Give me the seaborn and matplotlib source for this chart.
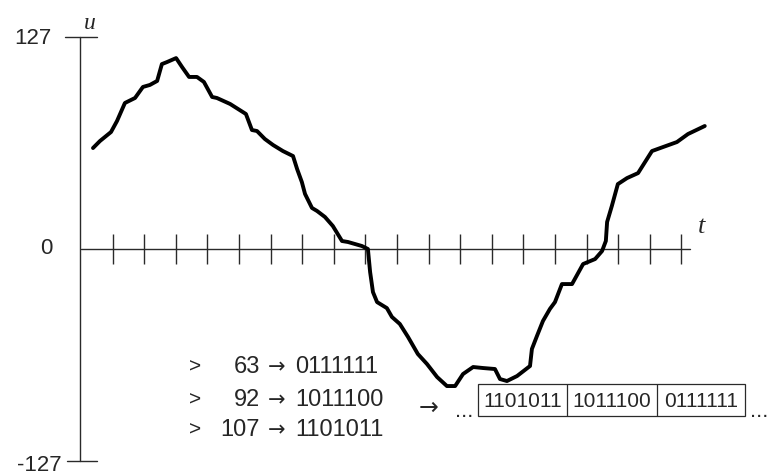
import numpy as np
import pandas as pd
import matplotlib.pyplot as plt
import seaborn as sns
from matplotlib.patches import Rectangle

sns.set_theme(style='white')
plt.rcParams['font.family'] = ['Liberation Sans', 'DejaVu Sans']

t = [0.38, 0.60, 0.95, 1.14, 1.39, 1.71, 1.96, 2.18, 2.41, 2.56, 2.72, 3.01,
     3.20, 3.42, 3.67, 3.89, 4.15, 4.30, 4.72, 4.97, 5.22, 5.41, 5.57, 5.82,
     6.08, 6.39, 6.71, 6.84, 6.99, 7.09, 7.31, 7.47, 7.72, 7.97, 8.26, 8.45,
     8.89, 9.08, 9.15, 9.24, 9.37, 9.68, 9.84, 10.09, 10.35, 10.66, 10.95,
     11.27, 11.58, 11.84, 12.09, 12.41, 12.72, 13.10, 13.26, 13.48, 13.80,
     14.21, 14.27, 14.43, 14.62, 14.84, 15.00, 15.22, 15.54, 15.89, 16.27,
     16.49, 16.61, 16.65, 16.80, 16.99, 17.28, 17.63, 18.07, 18.42, 18.86,
     19.21, 19.74]
u = [60.5, 64.7, 70.1, 76.7, 87.5, 90.5, 97.1, 98.3, 100.7, 110.8, 112.0, 114.4,
     109.0, 103.1, 103.1, 100.1, 91.1, 90.5, 86.9, 83.9, 80.9, 71.3, 70.7, 65.9,
     62.3, 58.7, 55.7, 47.9, 40.1, 33.0, 24.6, 22.8, 19.2, 13.8, 4.8, 4.2,
     1.8, 0.0, -13.8, -25.8, -31.8, -35.4, -40.7, -44.9, -52.7, -62.9, -68.9,
     -76.7, -82.1, -82.1, -74.9, -70.7, -71.3, -71.9, -77.9, -79.1, -76.1,
     -70.1, -59.9, -52.1, -43.1, -35.9, -31.8, -21.0, -21.0, -9.0, -6.0,
     -1.2, 4.8, 16.2, 25.8, 38.9, 42.5, 45.5, 58.7, 61.1, 64.1,
     68.9, 73.7]

n_ticks = 19
u_max = 127
samples = [63, 92, 107]
codes = ['0111111', '1011100', '1101011']
stream = ['1101011', '1011100', '0111111']

df = pd.DataFrame({'t': t, 'u': u})

fig = plt.figure(figsize=(7.67, 4.77), dpi=100)
ax = fig.add_axes([0, 0, 1, 1])
ax.set_xlim(-2.563, 21.71)
ax.set_ylim(-136.0, 149.8)
ax.set_axis_off()

axc = '#2a2a2a'
# axes
ax.plot([-0.03, -0.03], [-u_max, u_max], color=axc, lw=1)
ax.plot([-0.51, 0.51], [u_max, u_max], color=axc, lw=1)
ax.plot([-0.45, 0.51], [-u_max, -u_max], color=axc, lw=1)
ax.plot([0, 19.27], [0, 0], color=axc, lw=1)
ax.vlines(np.arange(1, n_ticks + 1), -9, 9, color=axc, lw=1)

sns.lineplot(data=df, x='t', y='u', sort=False, estimator=None,
             color='black', lw=2.8, ax=ax)

ax.text(-0.92, u_max, '127', ha='right', va='center', fontsize=16)
ax.text(-0.89, 1, '0', ha='right', va='center', fontsize=16)
ax.text(-0.6, -u_max - 2, '-127', ha='right', va='center', fontsize=16)
ax.text(0.28, 136, 'u', ha='center', va='center', fontsize=17,
        family='Liberation Serif', style='italic')
ax.text(19.65, 14, 't', ha='center', va='center', fontsize=19,
        family='Liberation Serif', style='italic')

rows_y = [-70.1, -89.9, -107.8]
for y, s, c in zip(rows_y, samples, codes):
    ax.text(3.61, y, '>', ha='center', va='center', fontsize=15)
    ax.text(5.66, y, str(s), ha='right', va='center', fontsize=17)
    ax.text(6.2, y, '→', ha='center', va='center', fontsize=15,
            family='DejaVu Sans')
    ax.text(6.77, y, c, ha='left', va='center', fontsize=17)

ax.text(11.01, -94.7, '→', ha='center', va='center', fontsize=17,
        family='DejaVu Sans')
ax.text(12.12, -97, '...', ha='center', va='center', fontsize=16)

edges = [12.56, 15.38, 18.23, 21.01]
ax.add_patch(Rectangle((edges[0], -100.1), edges[-1] - edges[0], 19.2,
                       fill=False, edgecolor=axc, lw=0.9))
ax.vlines(edges[1:-1], -100.1, -80.9, color=axc, lw=0.9)
for i, s in enumerate(stream):
    ax.text((edges[i] + edges[i + 1]) / 2, -90.5, s, ha='center', va='center',
            fontsize=15)
ax.text(21.17, -97, '...', ha='left', va='center', fontsize=16)

fig.savefig('out.png', dpi=100)
